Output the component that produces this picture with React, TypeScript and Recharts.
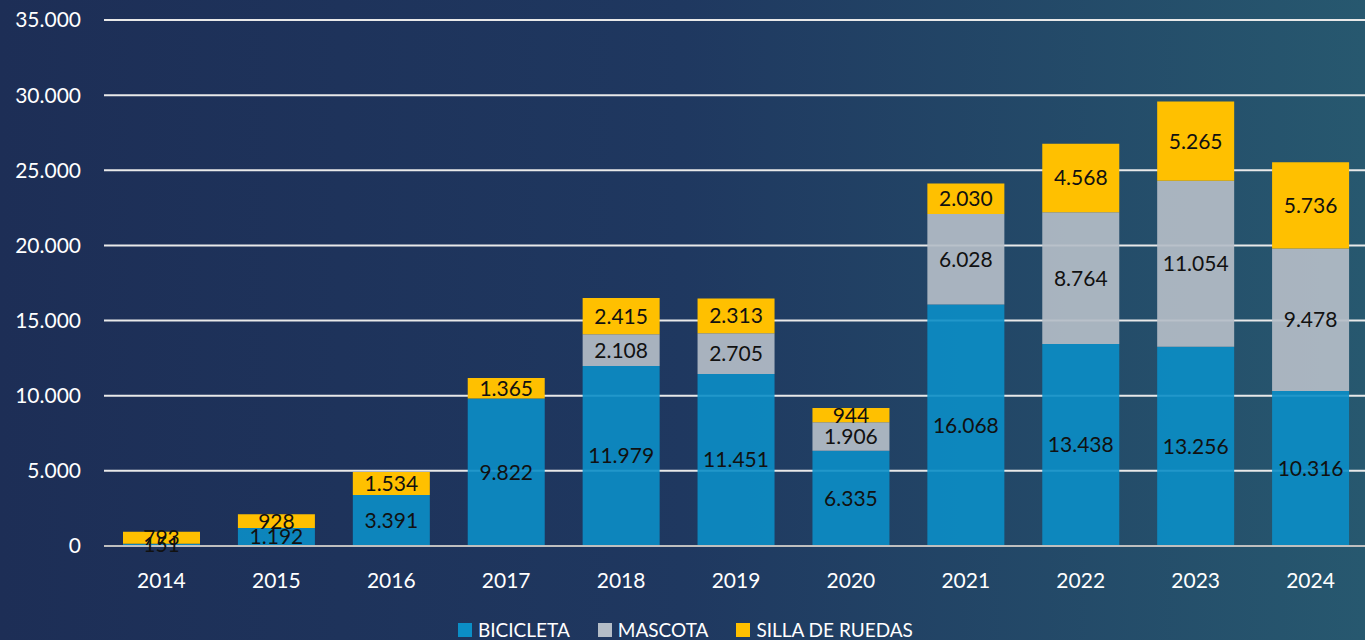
import React from "react";
import { BarChart, Bar, XAxis, YAxis, CartesianGrid, LabelList } from "recharts";

const years = ["2014", "2015", "2016", "2017", "2018", "2019", "2020", "2021", "2022", "2023", "2024"];
const bicicleta = [151, 1192, 3391, 9822, 11979, 11451, 6335, 16068, 13438, 13256, 10316];
const mascota = [0, 0, 0, 0, 2108, 2705, 1906, 6028, 8764, 11054, 9478];
const sillaDeRuedas = [793, 928, 1534, 1365, 2415, 2313, 944, 2030, 4568, 5265, 5736];
const yTicks = [0, 5000, 10000, 15000, 20000, 25000, 30000, 35000];

const series = [
  { key: "bicicleta", name: "BICICLETA", color: "#0b8ec6", opacity: 0.9 },
  { key: "mascota", name: "MASCOTA", color: "#b4bdc7", opacity: 0.92 },
  { key: "silla", name: "SILLA DE RUEDAS", color: "#ffc000", opacity: 1 },
];

const data = years.map((year, i) => ({
  year,
  bicicleta: bicicleta[i],
  mascota: mascota[i],
  silla: sillaDeRuedas[i],
}));

const FONT = "Lato, 'Open Sans', sans-serif";

// 12345 -> "12.345"
const fmt = (v: number) => String(Math.round(v)).replace(/\B(?=(\d{3})+(?!\d))/g, ".");

export default function App() {
  return (
    <div
      style={{
        position: "absolute",
        top: 0,
        left: 0,
        width: 1365,
        height: 640,
        background: "linear-gradient(90deg, #1d2e56 0%, #1f3860 50%, #27586f 100%)",
        fontFamily: FONT,
        overflow: "hidden",
      }}
    >
      <BarChart
        width={1368}
        height={640}
        data={data}
        margin={{ top: 20, right: 0, bottom: 44, left: 0 }}
        barCategoryGap={0}
      >
        <CartesianGrid vertical={false} stroke="#e9e9e9" strokeWidth={2} />
        <XAxis
          dataKey="year"
          height={50}
          tickLine={false}
          axisLine={{ stroke: "#bfbfbf", strokeWidth: 2 }}
          tickMargin={21}
          tick={{ fill: "#ffffff", fontSize: 21, fontFamily: FONT }}
        />
        <YAxis
          width={104}
          domain={[0, 35000]}
          ticks={yTicks}
          interval={0}
          axisLine={false}
          tickLine={false}
          tickSize={0}
          tickMargin={23}
          tickFormatter={fmt}
          tick={{ fill: "#ffffff", fontSize: 21, fontFamily: FONT }}
        />
        {series.map((s) => (
          <Bar
            key={s.key}
            dataKey={s.key}
            name={s.name}
            stackId="a"
            fill={s.color}
            fillOpacity={s.opacity}
            barSize={77}
            isAnimationActive={false}
          >
            <LabelList
              dataKey={s.key}
              position="center"
              formatter={(v: any) => (v ? fmt(Number(v)) : "")}
              style={{ fill: "#111111", fontSize: 21, fontFamily: FONT }}
            />
          </Bar>
        ))}
      </BarChart>
      <div
        style={{
          position: "absolute",
          top: 618,
          left: 458,
          display: "flex",
          alignItems: "center",
          color: "#ffffff",
          fontSize: 19,
          lineHeight: "24px",
          whiteSpace: "nowrap",
        }}
      >
        {series.map((s) => (
          <div key={s.key} style={{ display: "flex", alignItems: "center", marginRight: 28 }}>
            <span style={{ width: 14, height: 14, background: s.color, marginRight: 6, display: "inline-block" }} />
            <span>{s.name}</span>
          </div>
        ))}
      </div>
    </div>
  );
}
